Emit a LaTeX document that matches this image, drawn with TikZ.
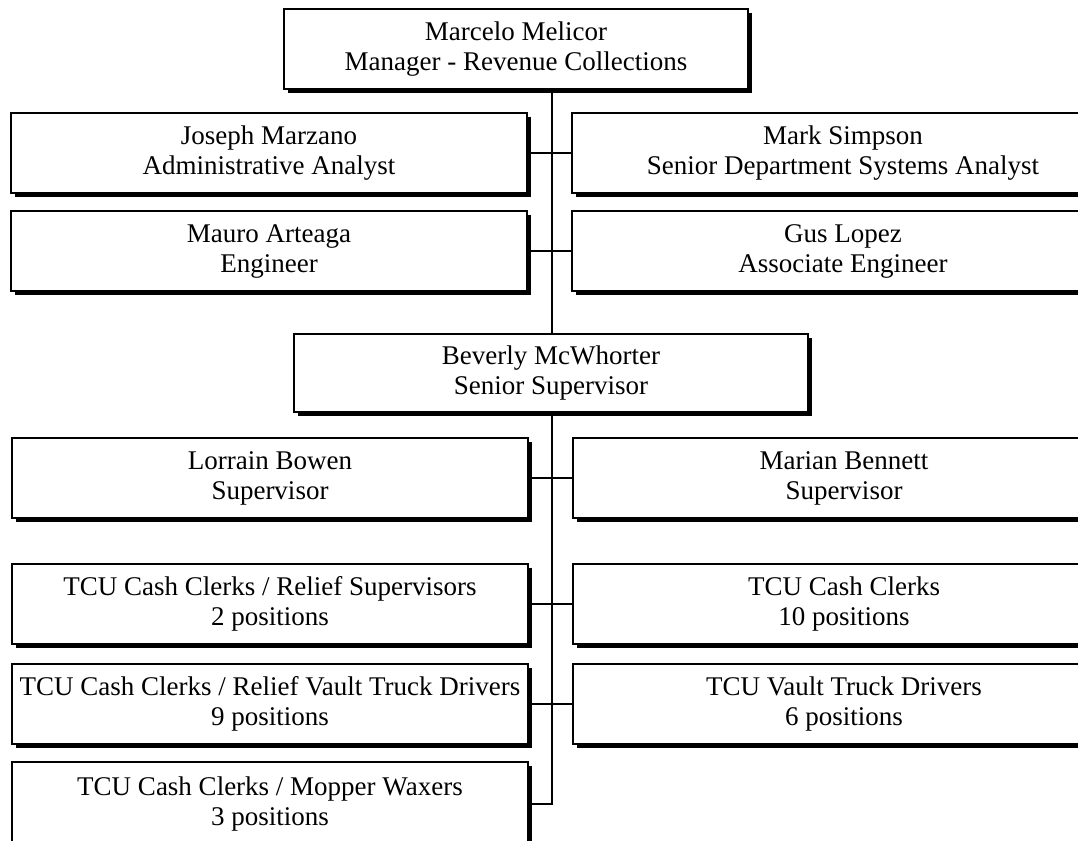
\documentclass[tikz,border=0pt]{standalone}
\usepackage{fontspec}
\setmainfont{Liberation Serif}
\usetikzlibrary{shadows}

\tikzset{
  orgbox/.style={draw, fill=white, line width=0.7pt, align=center, inner sep=0pt,
    font=\fontsize{13.5}{15}\selectfont,
    drop shadow={fill=black, opacity=1, shadow xshift=2.2pt, shadow yshift=-2.2pt}},
  lbox/.style={orgbox, minimum width=258pt, minimum height=40pt},
  rbox/.style={orgbox, minimum width=271pt, minimum height=40pt},
  link/.style={line width=0.9pt}
}

\begin{document}
\begin{tikzpicture}[x=0.5pt,y=-0.5pt]
  \useasboundingbox (0,0) rectangle (1078,841);
  \clip (0,0) rectangle (1078,841);
  \coordinate (spine) at (552,0);

  % top of the chart
  \node[orgbox, minimum width=232pt, minimum height=40pt] (manager) at (516,49)
    {Marcelo Melicor\\Manager - Revenue Collections};
  \node[lbox] (admin) at (269,153) {Joseph Marzano\\Administrative Analyst};
  \node[rbox] (systems) at (843,153) {Mark Simpson\\Senior Department Systems Analyst};
  \node[lbox] (engineer) at (269,251) {Mauro Arteaga\\Engineer};
  \node[rbox] (assoc) at (843,251) {Gus Lopez\\Associate Engineer};

  % second level
  \node[orgbox, minimum width=257pt, minimum height=39pt] (senior) at (551,373)
    {Beverly McWhorter\\Senior Supervisor};
  \node[lbox] (bowen) at (270,478) {Lorrain Bowen\\Supervisor};
  \node[rbox] (bennett) at (844,478) {Marian Bennett\\Supervisor};
  \node[lbox] (relsup) at (270,604) {TCU Cash Clerks / Relief Supervisors\\2 positions};
  \node[rbox] (clerks) at (844,604) {TCU Cash Clerks\\10 positions};
  \node[lbox] (reltruck) at (270,704) {TCU Cash Clerks / Relief Vault Truck Drivers\\9 positions};
  \node[rbox] (truck) at (844,704) {TCU Vault Truck Drivers\\6 positions};
  \node[lbox, minimum height=42pt] (mopper) at (270,804) {TCU Cash Clerks / Mopper Waxers\\3 positions};

  % connectors
  \draw[link] (manager.south -| spine) -- (senior.north -| spine);
  \draw[link] (admin.east) -- (systems.west);
  \draw[link] (engineer.east) -- (assoc.west);
  \draw[link] (senior.south -| spine) -- (mopper.east -| spine) -- (mopper.east);
  \draw[link] (bowen.east) -- (bennett.west);
  \draw[link] (relsup.east) -- (clerks.west);
  \draw[link] (reltruck.east) -- (truck.west);
\end{tikzpicture}
\end{document}
